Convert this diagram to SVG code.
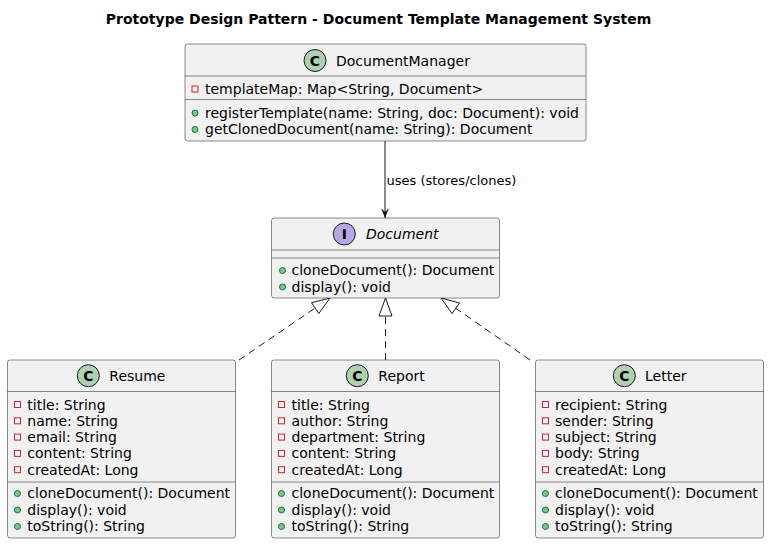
<svg xmlns="http://www.w3.org/2000/svg" width="769" height="544" viewBox="0 0 769 544">
<style>
text{font-family:"DejaVu Sans","Liberation Sans",sans-serif;fill:#000;}
.t{font-size:14px;font-weight:bold;}
.n{font-size:14px;}
.m{font-size:14px;}
.l{font-size:13px;}
.box{fill:#F1F1F1;stroke:#181818;stroke-width:0.5;}
.sep{stroke:#181818;stroke-width:0.5;}
.cc{fill:#ADD1B2;stroke:#181818;stroke-width:1;}
.ci{fill:#B4A7E5;stroke:#181818;stroke-width:1;}
.cl{font-size:14px;font-weight:bold;}
.pr{fill:none;stroke:#C82930;stroke-width:1;}
.pu{fill:#84BE84;stroke:#038048;stroke-width:1;}
.dash{fill:none;stroke:#181818;stroke-width:1;stroke-dasharray:7,5;}
.solid{fill:none;stroke:#181818;stroke-width:1;}
.tri{fill:none;stroke:#181818;stroke-width:1;}
</style>
<defs>
<marker id="arr" viewBox="0 0 10 10" refX="10" refY="5" markerWidth="10" markerHeight="10" orient="auto" markerUnits="userSpaceOnUse">
<path d="M0,1 L10,5 L0,9 L4,5 Z" fill="#181818"/>
</marker>
</defs>
<text class="t" x="378.5" y="24" text-anchor="middle">Prototype Design Pattern - Document Template Management System</text>

<g id="connectors">
<line class="solid" x1="385" y1="141" x2="385" y2="218" marker-end="url(#arr)"/>
<text class="l" x="386.5" y="185">uses (stores/clones)</text>
<line class="dash" x1="239" y1="360" x2="315.1" y2="308.1"/>
<polygon class="tri" points="330,298 311.5,302.7 318.8,313.5"/>
<line class="dash" x1="385.5" y1="360" x2="385.5" y2="316"/>
<polygon class="tri" points="385.5,298 379,316 392,316"/>
<line class="dash" x1="530" y1="360" x2="455.8" y2="308.3"/>
<polygon class="tri" points="441,298 459.5,303 452.1,313.6"/>
</g>

<g id="DocumentManager">
<rect class="box" x="185" y="44" width="401" height="97" rx="2.5"/>
<line class="sep" x1="185" y1="76" x2="586" y2="76"/>
<line class="sep" x1="185" y1="99.5" x2="586" y2="99.5"/>
<circle class="cc" cx="315" cy="60.5" r="11"/>
<text class="cl" x="315" y="65.5" text-anchor="middle">C</text>
<text class="n" x="336" y="65.5">DocumentManager</text>
<rect class="pr" x="192" y="86" width="6" height="6"/>
<text class="m" x="205" y="94">templateMap: Map&lt;String, Document&gt;</text>
<circle class="pu" cx="195" cy="113" r="3"/>
<text class="m" x="205" y="117.5">registerTemplate(name: String, doc: Document): void</text>
<circle class="pu" cx="195" cy="129.5" r="3"/>
<text class="m" x="205" y="134">getClonedDocument(name: String): Document</text>
</g>

<g id="Document">
<rect class="box" x="271.5" y="218" width="228" height="80" rx="2.5"/>
<line class="sep" x1="271.5" y1="250" x2="499.5" y2="250"/>
<line class="sep" x1="271.5" y1="258" x2="499.5" y2="258"/>
<circle class="ci" cx="344.3" cy="234" r="11"/>
<text class="cl" x="344.3" y="239" text-anchor="middle">I</text>
<text class="n" x="366" y="239" font-style="italic">Document</text>
<circle class="pu" cx="282.5" cy="270.5" r="3"/>
<text class="m" x="291.5" y="275">cloneDocument(): Document</text>
<circle class="pu" cx="282.5" cy="287" r="3"/>
<text class="m" x="291.5" y="291.5">display(): void</text>
</g>

<g id="Resume">
<rect class="box" x="7.5" y="360" width="228" height="178" rx="2.5"/>
<line class="sep" x1="7.5" y1="391.5" x2="235.5" y2="391.5"/>
<line class="sep" x1="7.5" y1="482" x2="235.5" y2="482"/>
<circle class="cc" cx="88.3" cy="375.7" r="11"/>
<text class="cl" x="88.3" y="380.7" text-anchor="middle">C</text>
<text class="n" x="109.3" y="380.7">Resume</text>
<rect class="pr" x="14.5" y="401.5" width="6" height="6"/>
<text class="m" x="27.3" y="409.5">title: String</text>
<rect class="pr" x="14.5" y="417.8" width="6" height="6"/>
<text class="m" x="27.3" y="425.8">name: String</text>
<rect class="pr" x="14.5" y="434.1" width="6" height="6"/>
<text class="m" x="27.3" y="442.1">email: String</text>
<rect class="pr" x="14.5" y="450.4" width="6" height="6"/>
<text class="m" x="27.3" y="458.4">content: String</text>
<rect class="pr" x="14.5" y="466.7" width="6" height="6"/>
<text class="m" x="27.3" y="474.7">createdAt: Long</text>
<circle class="pu" cx="17.5" cy="493.5" r="3"/>
<text class="m" x="27.3" y="498">cloneDocument(): Document</text>
<circle class="pu" cx="17.5" cy="510" r="3"/>
<text class="m" x="27.3" y="514.5">display(): void</text>
<circle class="pu" cx="17.5" cy="526.5" r="3"/>
<text class="m" x="27.3" y="531">toString(): String</text>
</g>

<g id="Report">
<rect class="box" x="271.5" y="360" width="228" height="178" rx="2.5"/>
<line class="sep" x1="271.5" y1="391.5" x2="499.5" y2="391.5"/>
<line class="sep" x1="271.5" y1="482" x2="499.5" y2="482"/>
<circle class="cc" cx="357.3" cy="375.7" r="11"/>
<text class="cl" x="357.3" y="380.7" text-anchor="middle">C</text>
<text class="n" x="378.3" y="380.7">Report</text>
<rect class="pr" x="278.5" y="401.5" width="6" height="6"/>
<text class="m" x="291.5" y="409.5">title: String</text>
<rect class="pr" x="278.5" y="417.8" width="6" height="6"/>
<text class="m" x="291.5" y="425.8">author: String</text>
<rect class="pr" x="278.5" y="434.1" width="6" height="6"/>
<text class="m" x="291.5" y="442.1">department: String</text>
<rect class="pr" x="278.5" y="450.4" width="6" height="6"/>
<text class="m" x="291.5" y="458.4">content: String</text>
<rect class="pr" x="278.5" y="466.7" width="6" height="6"/>
<text class="m" x="291.5" y="474.7">createdAt: Long</text>
<circle class="pu" cx="281.5" cy="493.5" r="3"/>
<text class="m" x="291.5" y="498">cloneDocument(): Document</text>
<circle class="pu" cx="281.5" cy="510" r="3"/>
<text class="m" x="291.5" y="514.5">display(): void</text>
<circle class="pu" cx="281.5" cy="526.5" r="3"/>
<text class="m" x="291.5" y="531">toString(): String</text>
</g>

<g id="Letter">
<rect class="box" x="535.5" y="360" width="228" height="178" rx="2.5"/>
<line class="sep" x1="535.5" y1="391.5" x2="763.5" y2="391.5"/>
<line class="sep" x1="535.5" y1="482" x2="763.5" y2="482"/>
<circle class="cc" cx="624.3" cy="375.7" r="11"/>
<text class="cl" x="624.3" y="380.7" text-anchor="middle">C</text>
<text class="n" x="645" y="380.7">Letter</text>
<rect class="pr" x="542.5" y="401.5" width="6" height="6"/>
<text class="m" x="555" y="409.5">recipient: String</text>
<rect class="pr" x="542.5" y="417.8" width="6" height="6"/>
<text class="m" x="555" y="425.8">sender: String</text>
<rect class="pr" x="542.5" y="434.1" width="6" height="6"/>
<text class="m" x="555" y="442.1">subject: String</text>
<rect class="pr" x="542.5" y="450.4" width="6" height="6"/>
<text class="m" x="555" y="458.4">body: String</text>
<rect class="pr" x="542.5" y="466.7" width="6" height="6"/>
<text class="m" x="555" y="474.7">createdAt: Long</text>
<circle class="pu" cx="545.5" cy="493.5" r="3"/>
<text class="m" x="555" y="498">cloneDocument(): Document</text>
<circle class="pu" cx="545.5" cy="510" r="3"/>
<text class="m" x="555" y="514.5">display(): void</text>
<circle class="pu" cx="545.5" cy="526.5" r="3"/>
<text class="m" x="555" y="531">toString(): String</text>
</g>
</svg>
